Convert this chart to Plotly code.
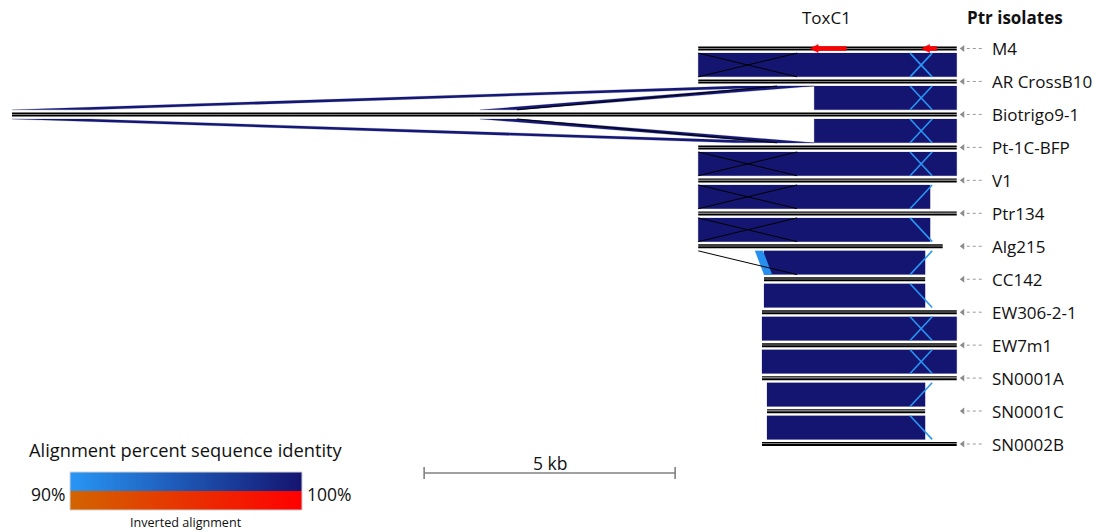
import numpy as np
import plotly.graph_objects as go

# ---------------- data ----------------
isolates = ["M4", "AR CrossB10", "Biotrigo9-1", "Pt-1C-BFP", "V1", "Ptr134", "Alg215",
            "CC142", "EW306-2-1", "EW7m1", "SN0001A", "SN0001C", "SN0002B"]
# sequence extents in kb (common coordinate frame)
track_start = [13.67, 13.67, 0.00, 13.67, 13.67, 13.67, 13.67, 14.98, 14.94, 14.94, 14.94, 15.04, 14.94]
track_end = [18.82, 18.82, 18.82, 18.82, 18.82, 18.82, 18.54, 18.19, 18.82, 18.82, 18.82, 18.19, 18.82]

# pairwise alignment blocks between consecutive isolates (pair i = isolate i vs i+1)
link_pair = [0, 1, 1, 1, 2, 2, 2, 3, 4, 5, 6, 6, 7, 8, 9, 10, 11]
link_top_start = [13.67, 15.98, 14.40, 15.20, 15.98, 0.00, 9.32, 13.67, 13.67, 13.67, 14.98, 14.80, 14.98, 14.94, 14.94, 15.04, 15.04]
link_top_end = [18.82, 18.82, 15.98, 15.98, 18.82, 1.55, 10.12, 18.82, 18.29, 18.29, 18.19, 14.96, 18.19, 18.82, 18.82, 18.19, 18.19]
link_bot_start = [13.67, 15.98, 0.00, 9.32, 15.98, 14.40, 15.20, 13.67, 13.67, 13.67, 14.98, 14.98, 14.98, 14.94, 14.94, 15.04, 15.04]
link_bot_end = [18.82, 18.82, 1.55, 10.12, 18.82, 15.98, 15.98, 18.82, 18.29, 18.29, 18.19, 15.14, 18.19, 18.82, 18.82, 18.19, 18.19]
link_identity = [99.9, 99.9, 99.6, 99.6, 99.9, 99.6, 99.6, 99.9, 99.9, 99.9, 99.9, 90.5, 99.9, 99.9, 99.9, 99.9, 99.9]

# narrow low-identity alignments (drawn as thin blue strokes)
thin_pair = [0, 0, 1, 1, 2, 2, 3, 3, 4, 5, 6, 7, 8, 8, 9, 9, 10, 11]
thin_top = [18.33, 17.89, 18.33, 17.89, 18.33, 17.89, 18.33, 17.89, 18.33, 17.89, 18.33, 17.89, 18.33, 17.89, 18.33, 17.89, 18.33, 17.89]
thin_bot = [17.89, 18.33, 17.89, 18.33, 17.89, 18.33, 17.89, 18.33, 17.89, 18.33, 17.89, 18.33, 17.89, 18.33, 17.89, 18.33, 17.89, 18.33]
thin_identity = [90.0] * 18

# block boundary edges (dark thin lines)
edge_pair = [0, 0, 1, 2, 3, 3, 4, 4, 5, 5, 6]
edge_top = [13.67, 15.64, 15.24, 10.06, 13.67, 15.64, 13.67, 15.64, 13.67, 15.64, 13.67]
edge_bot = [15.64, 13.67, 10.06, 15.24, 15.64, 13.67, 15.64, 13.67, 15.64, 13.67, 15.64]

# genes on M4
gene_track = [0, 0]
gene_start = [15.90, 18.12]
gene_end = [16.62, 18.42]
gene_label = ["ToxC1", ""]

scale_start = 8.21
scale_kb = 5
identity_min, identity_max = 90, 100

# ---------------- helpers ----------------
INSET = 0.14
PX_KB = 50.2      # pixels per kb
PX_TRACK = 32.96  # pixels per track


def identity_color(p, inverted=False):
    t = (p - identity_min) / (identity_max - identity_min)
    t = min(max(t, 0), 1)
    lo, hi = ((210, 100, 0), (255, 0, 0)) if inverted else ((40, 150, 245), (20, 20, 112))
    c = [round(lo[k] + (hi[k] - lo[k]) * t) for k in range(3)]
    return f"rgb({c[0]},{c[1]},{c[2]})"


fig = go.Figure()

# alignment blocks
for i in range(len(link_pair)):
    y0 = link_pair[i] + INSET
    y1 = link_pair[i] + 1 - INSET
    col = identity_color(link_identity[i])
    fig.add_trace(go.Scatter(
        x=[link_top_start[i], link_top_end[i], link_bot_end[i], link_bot_start[i], link_top_start[i]],
        y=[y0, y0, y1, y1, y0], mode="lines", fill="toself", fillcolor=col,
        line=dict(color=col, width=0.2), hoverinfo="skip", showlegend=False))

# block edges
ex, ey = [], []
for i in range(len(edge_pair)):
    ex += [edge_top[i], edge_bot[i], None]
    ey += [edge_pair[i] + INSET, edge_pair[i] + 1 - INSET, None]
fig.add_trace(go.Scatter(x=ex, y=ey, mode="lines", line=dict(color="#000000", width=1.0),
                         hoverinfo="skip", showlegend=False))

# thin low-identity alignments
for i in range(len(thin_pair)):
    fig.add_trace(go.Scatter(
        x=[thin_top[i], thin_bot[i]],
        y=[thin_pair[i] + INSET, thin_pair[i] + 1 - INSET], mode="lines",
        line=dict(color=identity_color(thin_identity[i]), width=1.6),
        hoverinfo="skip", showlegend=False))

# sequence tracks (double line)
tx, ty1, ty2 = [], [], []
for i in range(len(isolates)):
    tx += [track_start[i], track_end[i], None]
    ty1 += [i - 1.2 / PX_TRACK, i - 1.2 / PX_TRACK, None]
    ty2 += [i + 1.1 / PX_TRACK, i + 1.1 / PX_TRACK, None]
fig.add_trace(go.Scatter(x=tx, y=ty1, mode="lines", line=dict(color="black", width=1.4),
                         hoverinfo="skip", showlegend=False))
fig.add_trace(go.Scatter(x=tx, y=ty2, mode="lines", line=dict(color="black", width=2.0),
                         hoverinfo="skip", showlegend=False))

# genes (reverse strand arrows)
hl = 8 / PX_KB
hw = 4 / PX_TRACK
bw = 2 / PX_TRACK
for i in range(len(gene_start)):
    y = gene_track[i]
    s, e = gene_start[i], gene_end[i]
    fig.add_trace(go.Scatter(
        x=[s, s + hl, s + hl, e, e, s + hl, s + hl, s],
        y=[y, y - hw, y - bw, y - bw, y + bw, y + bw, y + hw, y],
        mode="lines", fill="toself", fillcolor="#ff0000", line=dict(color="#ee0000", width=0.5),
        hoverinfo="skip", showlegend=False))

# label pointer arrows
lab_x0 = max(track_end) + 6 / PX_KB
lab_x1 = max(track_end) + 26 / PX_KB
lab_text_x = max(track_end) + 33 / PX_KB
px_, py_ = [], []
for i in range(len(isolates)):
    px_ += [lab_x0 + 4 / PX_KB, lab_x1, None]
    py_ += [i, i, None]
fig.add_trace(go.Scatter(x=px_, y=py_, mode="lines", line=dict(color="#999999", width=1, dash="dot"),
                         hoverinfo="skip", showlegend=False))
fig.add_trace(go.Scatter(x=[lab_x0] * len(isolates), y=list(range(len(isolates))), mode="markers",
                         marker=dict(symbol="triangle-left", size=6, color="#8c8c8c"),
                         hoverinfo="skip", showlegend=False))

FONT = "Open Sans"
annotations = []
for i, name in enumerate(isolates):
    annotations.append(dict(x=lab_text_x, y=i, xref="x", yref="y", text=name,
                            showarrow=False, xanchor="left", yanchor="middle",
                            font=dict(family=FONT, size=17, color="#111")))
annotations.append(dict(x=19.98, y=-0.95, xref="x", yref="y", text="<b>Ptr isolates</b>",
                        showarrow=False, font=dict(family=FONT, size=17, color="#111")))
for i in range(len(gene_start)):
    if gene_label[i]:
        annotations.append(dict(x=(gene_start[i] + gene_end[i]) / 2 - 0.04, y=gene_track[i] - 0.95,
                                xref="x", yref="y", text=gene_label[i], showarrow=False,
                                font=dict(family=FONT, size=17, color="#111")))

# scale bar
sy = 12.88
tick = 6 / PX_TRACK
fig.add_trace(go.Scatter(
    x=[scale_start, scale_start + scale_kb, None, scale_start, scale_start, None,
       scale_start + scale_kb, scale_start + scale_kb],
    y=[sy, sy, None, sy - tick, sy + tick, None, sy - tick, sy + tick],
    mode="lines", line=dict(color="#808080", width=1.6), hoverinfo="skip", showlegend=False))
annotations.append(dict(x=scale_start + scale_kb / 2, y=sy - 0.3, xref="x", yref="y",
                        text=f"{scale_kb} kb", showarrow=False,
                        font=dict(family=FONT, size=17.5, color="#111")))

# identity legend (gradient bars)
levels = np.linspace(identity_min, identity_max, 101)
blue_scale = [[0, identity_color(identity_min)], [1, identity_color(identity_max)]]
red_scale = [[0, identity_color(identity_min, True)], [1, identity_color(identity_max, True)]]
fig.add_trace(go.Heatmap(x=levels, y=[1], z=[levels], colorscale=blue_scale, showscale=False,
                         xaxis="x2", yaxis="y2", hoverinfo="skip"))
fig.add_trace(go.Heatmap(x=levels, y=[0], z=[levels], colorscale=red_scale, showscale=False,
                         xaxis="x2", yaxis="y2", hoverinfo="skip"))

W, H = 1094, 531
annotations += [
    dict(x=27 / W, y=1 - 449 / H, xref="paper", yref="paper", text="Alignment percent sequence identity",
         showarrow=False, xanchor="left", yanchor="middle", font=dict(family=FONT, size=18.3, color="#111")),
    dict(x=67 / W, y=1 - 494 / H, xref="paper", yref="paper", text=f"{identity_min}%",
         showarrow=False, xanchor="right", yanchor="middle", font=dict(family=FONT, size=17.5, color="#111")),
    dict(x=305 / W, y=1 - 494 / H, xref="paper", yref="paper", text=f"{identity_max}%",
         showarrow=False, xanchor="left", yanchor="middle", font=dict(family=FONT, size=17.5, color="#111")),
    dict(x=186 / W, y=1 - 522 / H, xref="paper", yref="paper", text="Inverted alignment",
         showarrow=False, xanchor="center", yanchor="middle", font=dict(family=FONT, size=12.6, color="#111")),
]

fig.update_layout(
    width=W, height=H, margin=dict(l=0, r=0, t=0, b=0),
    paper_bgcolor="white", plot_bgcolor="white",
    xaxis=dict(range=[-12 / PX_KB, (W - 12) / PX_KB], visible=False, fixedrange=True),
    yaxis=dict(range=[(H - 48.5) / PX_TRACK, -48.5 / PX_TRACK], visible=False, fixedrange=True),
    xaxis2=dict(domain=[70 / W, 302 / W], range=[identity_min, identity_max], visible=False,
                anchor="y2", fixedrange=True),
    yaxis2=dict(domain=[1 - 510 / H, 1 - 472 / H], range=[-0.5, 1.5], visible=False,
                anchor="x2", fixedrange=True),
    annotations=annotations,
    shapes=[dict(type="rect", xref="paper", yref="paper", x0=70 / W, x1=302 / W,
                 y0=1 - 510 / H, y1=1 - 472 / H, line=dict(color="#d0d0d0", width=1))],
    showlegend=False,
)

fig.write_html("out.html")
